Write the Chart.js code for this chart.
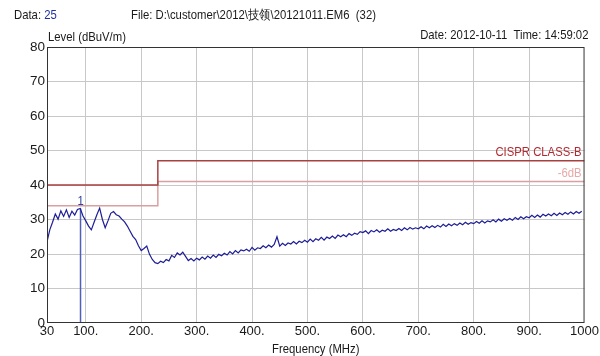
<!DOCTYPE html>
<html>
<head>
<meta charset="utf-8">
<script src="https://cdn.jsdelivr.net/npm/chart.js@4/dist/chart.umd.min.js"></script>
<style>
  html, body { margin: 0; padding: 0; background: #fff; }
  #wrap { position: relative; width: 600px; height: 356px; font-family: "Liberation Sans", Arial, sans-serif; }
  #chart { position: absolute; left: 0; top: 0; }
  .hd { position: absolute; font-size: 13px; color: #1a1a1a; white-space: nowrap; line-height: 14px; transform: scaleX(0.87); }
  .lft { transform-origin: left top; }
  .rgt { transform-origin: right top; }
  .blue { color: #2030a0; }
</style>
</head>
<body>
<div id="wrap">
  <canvas id="chart" width="600" height="356"></canvas>
  <div class="hd lft" style="left:14px; top:8px;">Data: <span class="blue">25</span></div>
  <div class="hd lft" style="left:131px; top:8px;">File: D:\customer\2012\技领\20121011.EM6&nbsp; (32)</div>
  <div class="hd rgt" style="right:12px; top:28px;">Date: 2012-10-11&nbsp; Time: 14:59:02</div>
  <div class="hd lft" style="left:48px; top:30px;">Level (dBuV/m)</div>
</div>
<script>
// sweep: 30 MHz .. 1000 MHz, one reading every 5 MHz
const sweepStart = 30;
const sweepStep  = 5;

const levelLow = [ // 30 - 300 MHz
  23.5, 27.0, 29.2, 31.6, 30.1, 32.5, 30.9, 32.8, 30.6, 32.4, 31.3, 32.9, 33.2,
  31.0, 29.6, 28.1, 27.0, 29.2, 31.4, 33.3, 30.0, 27.6, 29.6, 31.8, 32.3, 31.4,
  31.0, 30.1, 29.3, 28.1, 26.6, 25.1, 24.2, 22.4, 21.0, 21.6, 22.3, 19.9, 18.4,
  17.5, 17.2, 17.9, 17.5, 18.4, 18.0, 19.6, 19.0, 20.3, 19.7, 20.5, 19.3, 18.1,
  18.7, 18.0, 18.8
];
const levelMid = [ // 305 - 600 MHz
  18.3, 19.1, 18.5, 19.4, 18.8, 19.7, 19.0, 19.9, 19.5, 20.2, 19.7, 20.7, 20.0,
  21.0, 20.3, 21.2, 20.9, 21.4, 20.8, 21.9, 21.1, 21.8, 21.6, 22.4, 21.8, 22.6,
  22.0, 22.8, 25.0, 22.3, 23.1, 22.5, 23.2, 22.9, 23.6, 22.9, 23.7, 23.3, 24.0,
  23.4, 24.3, 23.6, 24.4, 24.0, 24.8, 24.0, 24.9, 24.5, 25.2, 24.5, 25.5, 25.0,
  25.6, 25.0, 25.9, 25.4, 26.0, 25.7, 26.5
];
const levelHigh = [ // 605 - 1000 MHz
  26.2, 26.7, 25.9, 26.8, 26.4, 27.0, 26.3, 26.9, 26.6, 27.3, 26.6, 27.1, 26.8,
  27.4, 26.8, 27.6, 27.0, 27.7, 27.2, 27.6, 27.3, 27.9, 27.3, 28.1, 27.6, 28.2,
  27.7, 28.3, 27.8, 28.6, 28.0, 28.7, 28.2, 28.8, 28.3, 29.0, 28.5, 29.2, 28.6,
  29.1, 28.8, 29.4, 28.9, 29.6, 29.0, 29.6, 29.3, 29.9, 29.3, 30.1, 29.5, 30.2,
  29.8, 30.3, 29.8, 30.6, 30.0, 30.8, 30.2, 30.8, 30.5, 31.2, 30.6, 31.3, 30.7,
  31.5, 31.0, 31.6, 31.1, 31.8, 31.2, 31.9, 31.4, 32.0, 31.5, 32.2, 31.6, 32.3,
  31.8, 32.4
];

// CISPR class B limit and -6 dB margin
const limitFreq   = [30, 230, 230, 1000];
const limitLevel  = [40, 40, 47, 47];
const marginLevel = [34, 34, 41, 41];

// marker 1
const markerFreq  = 90.5;
const markerLevel = 33.2;

const yTicks = [0, 10, 20, 30, 40, 50, 60, 70, 80];
const xTicks = [30, 100, 200, 300, 400, 500, 600, 700, 800, 900, 1000];

const levels = levelLow.concat(levelMid, levelHigh);
const trace = levels.map((v, i) => ({ x: sweepStart + i * sweepStep, y: v }));
const toPts = (xs, ys) => xs.map((x, i) => ({ x: x, y: ys[i] }));

const FONT = '"Liberation Sans", Arial, sans-serif';

// narrow text, like the analyser printout
function narrowText(ctx, text, x, y, align) {
  ctx.save();
  ctx.translate(x, y);
  ctx.scale(0.87, 1);
  ctx.textAlign = align;
  ctx.fillText(text, 0, 0);
  ctx.restore();
}

const labelPlugin = {
  id: 'labels',
  afterDatasetsDraw(chart) {
    const { ctx, scales: { x, y }, chartArea } = chart;
    ctx.save();
    ctx.font = '13px ' + FONT;
    ctx.textBaseline = 'bottom';
    ctx.fillStyle = '#b02a30';
    narrowText(ctx, 'CISPR CLASS-B', chartArea.right - 3, y.getPixelForValue(47) - 2, 'right');
    ctx.fillStyle = '#e8a8a8';
    narrowText(ctx, '-6dB', chartArea.right - 3, y.getPixelForValue(41) - 2, 'right');
    ctx.fillStyle = '#3040a0';
    narrowText(ctx, '1', x.getPixelForValue(markerFreq), y.getPixelForValue(markerLevel) - 1, 'center');
    ctx.fillStyle = '#1a1a1a';
    ctx.textBaseline = 'middle';
    narrowText(ctx, 'Frequency (MHz)', (chartArea.left + chartArea.right) / 2, 349, 'center');
    // frame
    ctx.strokeStyle = '#333';
    ctx.lineWidth = 1;
    ctx.strokeRect(chartArea.left + 0.5, chartArea.top + 0.5, chartArea.width - 1, chartArea.height - 1);
    ctx.restore();
  }
};

new Chart(document.getElementById('chart'), {
  type: 'line',
  data: {
    datasets: [
      { data: toPts(limitFreq, marginLevel), borderColor: '#d8a0a0', borderWidth: 1.5, pointRadius: 0, order: 3 },
      { data: toPts(limitFreq, limitLevel), borderColor: '#a84040', borderWidth: 1.5, pointRadius: 0, order: 2 },
      { data: [{ x: markerFreq, y: 0 }, { x: markerFreq, y: markerLevel }], borderColor: '#5060b8', borderWidth: 1.5, pointRadius: 0, order: 1 },
      { data: trace, borderColor: '#1c1c96', borderWidth: 1.2, pointRadius: 0, tension: 0, order: 0 }
    ]
  },
  options: {
    responsive: false,
    animation: false,
    layout: { padding: { top: 47, right: 14, left: 0, bottom: 0 } },
    plugins: { legend: { display: false }, tooltip: { enabled: false } },
    scales: {
      x: {
        type: 'linear', min: 30, max: 1000,
        afterBuildTicks: s => { s.ticks = xTicks.map(v => ({ value: v })); },
        afterFit: s => { s.height = 33; },
        ticks: {
          color: '#1a1a1a', font: { family: FONT, size: 13 }, padding: 1, maxRotation: 0,
          callback: v => (v === 30 || v === 1000) ? String(v) : v + '.'
        },
        grid: { color: c => (c.tick && (c.tick.value === 30 || c.tick.value === 1000)) ? 'rgba(0,0,0,0)' : '#c8c8c8', drawTicks: false },
        border: { display: false }
      },
      y: {
        min: 0, max: 80,
        afterBuildTicks: s => { s.ticks = yTicks.map(v => ({ value: v })); },
        afterFit: s => { s.width = 47; },
        ticks: { color: '#1a1a1a', font: { family: FONT, size: 13.5 }, padding: 2 },
        grid: { color: c => (c.tick && (c.tick.value === 0 || c.tick.value === 80)) ? 'rgba(0,0,0,0)' : '#c8c8c8', drawTicks: false },
        border: { display: false }
      }
    }
  },
  plugins: [labelPlugin]
});
</script>
</body>
</html>
